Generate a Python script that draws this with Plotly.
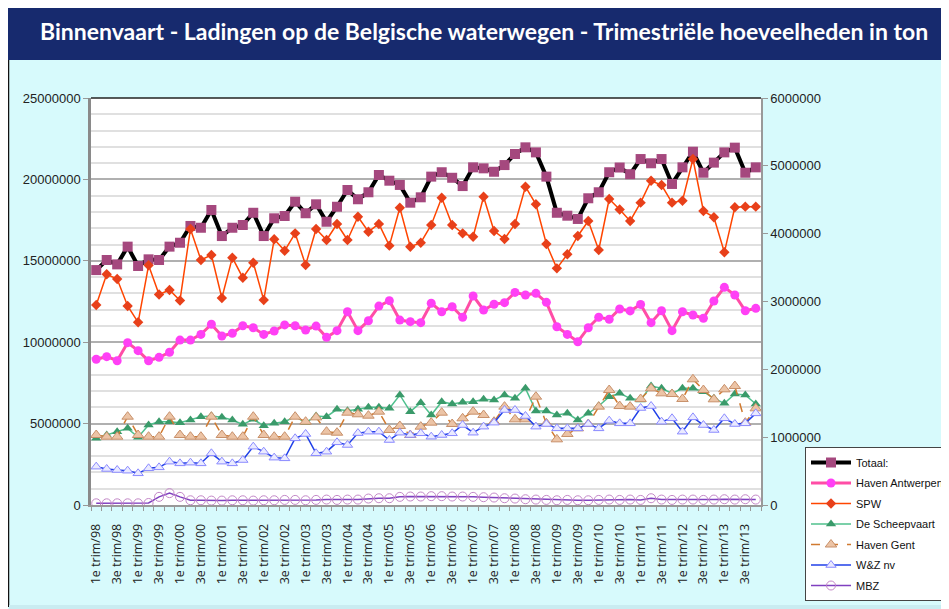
import plotly.graph_objects as go

# ---------------- data ----------------
quarters = [f"{q}e trim/{y:02d}" for y in list(range(98, 100)) + list(range(0, 14)) for q in (1, 2, 3, 4)]
tick_labels = [lab if lab[0] in "13" else "" for lab in quarters]

totaal = [14430000, 15050000, 14780000, 15870000, 14680000, 15090000, 15050000, 15870000, 16110000, 17140000,
          17030000, 18120000, 16520000, 17030000, 17200000, 17950000, 16520000, 17610000, 17750000, 18630000,
          17920000, 18470000, 17400000, 18320000, 19350000, 18780000, 19210000, 20270000, 19920000, 19660000,
          18570000, 18900000, 20170000, 20440000, 20100000, 19590000, 20740000, 20680000, 20470000, 20880000,
          21560000, 21970000, 21660000, 20170000, 17950000, 17770000, 17570000, 18840000, 19210000, 20440000,
          20730000, 20320000, 21250000, 20990000, 21250000, 19720000, 20740000, 21700000, 20410000, 21030000,
          21660000, 21950000, 20410000, 20740000]

antwerpen = [8950000, 9110000, 8860000, 9970000, 9480000, 8860000, 9070000, 9380000, 10130000, 10130000,
             10480000, 11100000, 10380000, 10550000, 11010000, 10890000, 10480000, 10690000, 11060000, 11010000,
             10750000, 10990000, 10300000, 10710000, 11870000, 10710000, 11320000, 12220000, 12550000, 11360000,
             11260000, 11200000, 12390000, 11870000, 12180000, 11530000, 12840000, 11980000, 12330000, 12430000,
             13060000, 12900000, 13000000, 12450000, 10950000, 10480000, 10030000, 10890000, 11530000, 11410000,
             12040000, 11920000, 12320000, 11200000, 11930000, 10710000, 11870000, 11670000, 11470000, 12530000,
             13370000, 12900000, 11930000, 12080000]

spw = [2948000, 3401000, 3332000, 2934000, 2693000, 3534000, 3103000, 3170000, 3015000, 4069000,
       3612000, 3686000, 3052000, 3646000, 3351000, 3572000, 3022000, 3917000, 3749000, 4005000,
       3538000, 4069000, 3907000, 4143000, 3907000, 4250000, 4029000, 4143000, 3823000, 4383000,
       3808000, 3867000, 4128000, 4530000, 4128000, 4005000, 3955000, 4545000, 4039000, 3921000,
       4143000, 4692000, 4433000, 3848000, 3489000, 3696000, 3966000, 4187000, 3759000, 4511000,
       4356000, 4187000, 4457000, 4781000, 4717000, 4457000, 4486000, 5101000, 4334000, 4241000,
       3725000, 4389000, 4398000, 4398000]

scheepvaart = [983000, 1032000, 1081000, 1130000, 998000, 1179000, 1228000, 1228000, 1214000, 1253000,
               1302000, 1312000, 1292000, 1253000, 1189000, 1263000, 1169000, 1204000, 1228000, 1302000,
               1214000, 1312000, 1302000, 1411000, 1391000, 1410000, 1440000, 1440000, 1425000, 1622000,
               1376000, 1509000, 1327000, 1523000, 1489000, 1513000, 1523000, 1558000, 1548000, 1622000,
               1572000, 1720000, 1386000, 1386000, 1327000, 1351000, 1253000, 1351000, 1459000, 1597000,
               1646000, 1572000, 1548000, 1754000, 1720000, 1646000, 1720000, 1720000, 1671000, 1572000,
               1499000, 1636000, 1622000, 1489000]

gent = [1032000, 1007000, 1007000, 1302000, 1032000, 1007000, 1007000, 1302000, 1032000, 1007000,
        1007000, 1302000, 1032000, 1007000, 1007000, 1302000, 1032000, 1007000, 1007000, 1302000,
        1228000, 1292000, 1081000, 1066000, 1361000, 1337000, 1317000, 1376000, 1106000, 1165000,
        1032000, 1155000, 1214000, 1361000, 1194000, 1278000, 1376000, 1327000, 1228000, 1450000,
        1263000, 1263000, 1597000, 1204000, 968000, 1047000, 1130000, 1194000, 1450000, 1695000,
        1459000, 1450000, 1563000, 1720000, 1646000, 1636000, 1563000, 1853000, 1695000, 1558000,
        1705000, 1754000, 1214000, 1425000]

wz = [565000, 531000, 516000, 506000, 467000, 541000, 555000, 639000, 614000, 624000,
      614000, 762000, 639000, 614000, 663000, 860000, 786000, 698000, 688000, 983000,
      1047000, 762000, 786000, 924000, 885000, 1060000, 1081000, 1081000, 958000, 1066000,
      1032000, 1057000, 1007000, 1032000, 1057000, 1179000, 1066000, 1155000, 1214000, 1400000,
      1400000, 1312000, 1155000, 1194000, 1130000, 1130000, 1130000, 1194000, 1130000, 1243000,
      1204000, 1204000, 1430000, 1459000, 1228000, 1278000, 1081000, 1292000, 1179000, 1106000,
      1278000, 1194000, 1204000, 1351000]

mbz = [25000, 25000, 25000, 25000, 25000, 30000, 120000, 175000, 120000, 70000,
       70000, 65000, 65000, 70000, 70000, 65000, 70000, 70000, 75000, 75000,
       70000, 75000, 80000, 75000, 80000, 80000, 95000, 100000, 100000, 120000,
       125000, 125000, 130000, 130000, 125000, 125000, 120000, 115000, 110000, 100000,
       95000, 85000, 80000, 75000, 70000, 75000, 70000, 70000, 75000, 80000,
       75000, 80000, 75000, 100000, 80000, 75000, 80000, 80000, 75000, 80000,
       85000, 80000, 85000, 80000]

# ---------------- geometry (page pixels; page body has an 8px margin) ----------------
OFF = 8
W, H = 949 - OFF, 609 - OFF
L, R, T, B = 91 - OFF, 761 - OFF, 98 - OFF, 505 - OFF


def px(x):
    """page x pixel -> paper coordinate"""
    return (x - OFF - L) / (R - L)


def py(y):
    """page y pixel -> paper coordinate"""
    return (B - (y - OFF)) / (B - T)


fig = go.Figure()

fig.add_trace(go.Scatter(x=quarters, y=totaal, name="Totaal:", mode="lines+markers", legendgroup="g1",
                         line=dict(color="black", width=4),
                         marker=dict(symbol="square", size=10, color="#a5487e"), yaxis="y"))
fig.add_trace(go.Scatter(x=quarters, y=antwerpen, name="Haven Antwerpen", mode="lines+markers", legendgroup="g2",
                         line=dict(color="#ff4da6", width=3),
                         marker=dict(symbol="circle", size=9, color="#ff40f5"), yaxis="y"))
fig.add_trace(go.Scatter(x=quarters, y=spw, name="SPW", mode="lines+markers", legendgroup="g3",
                         line=dict(color="#ff4500", width=1.5),
                         marker=dict(symbol="diamond", size=8, color="#e8401a"), yaxis="y2"))
fig.add_trace(go.Scatter(x=quarters, y=scheepvaart, name="De Scheepvaart", mode="lines+markers", legendgroup="g4",
                         line=dict(color="#4fc08d", width=1.5),
                         marker=dict(symbol="triangle-up", size=9, color="#3a9a6a"), yaxis="y2"))
fig.add_trace(go.Scatter(x=quarters, y=gent, name="Haven Gent", mode="lines+markers", legendgroup="g5",
                         line=dict(color="#d07a30", width=1.5, dash="dash"),
                         marker=dict(symbol="triangle-up", size=10, color="#ecc4a6",
                                     line=dict(color="#c8906a", width=1)), yaxis="y2"))
fig.add_trace(go.Scatter(x=quarters, y=wz, name="W&Z nv", mode="lines+markers", legendgroup="g6",
                         line=dict(color="#2040e8", width=1.5),
                         marker=dict(symbol="triangle-up", size=9, color="#eaeaff",
                                     line=dict(color="#8a8aff", width=1)), yaxis="y2"))
fig.add_trace(go.Scatter(x=quarters, y=mbz, name="MBZ", mode="lines+markers", legendgroup="g7",
                         line=dict(color="#8040c0", width=1.5),
                         marker=dict(symbol="circle-open", size=9, color="#c488c8",
                                     line=dict(width=1)), yaxis="y2"))

axis_font = dict(family="Liberation Sans, Arial", size=13, color="#222222")

shapes = [
    # navy title bar
    dict(type="rect", xref="paper", yref="paper", x0=px(0), x1=px(960), y0=py(60), y1=py(0),
         fillcolor="#172a6e", line=dict(width=0), layer="below"),
    # dark left border of panel
    dict(type="line", xref="paper", yref="paper", x0=px(8), x1=px(8), y0=py(60), y1=py(607),
         line=dict(color="#111111", width=2.5), layer="below"),
    # bottom band
    dict(type="rect", xref="paper", yref="paper", x0=px(9), x1=px(960), y0=py(620), y1=py(605),
         fillcolor="#c9ecf1", line=dict(width=0), layer="below"),
    # top border of plot area
    dict(type="line", xref="paper", yref="paper", x0=0, x1=1, y0=1, y1=1,
         line=dict(color="#222222", width=1.5), layer="above"),
]

fig.update_layout(
    width=W, height=H,
    margin=dict(l=L, r=W - R, t=T, b=H - B, autoexpand=False),
    paper_bgcolor="#d7fafc",
    plot_bgcolor="white",
    showlegend=True,
    shapes=shapes,
    annotations=[dict(text="Binnenvaart - Ladingen op de Belgische waterwegen - Trimestriële hoeveelheden in ton",
                      xref="paper", yref="paper", x=px(484), y=py(31), xanchor="center", yanchor="middle",
                      showarrow=False,
                      font=dict(family="Lato", size=23, color="white", weight="bold"))],
    xaxis=dict(type="category", categoryorder="array", categoryarray=quarters,
               range=[-0.5, len(quarters) - 0.5],
               tickmode="array", tickvals=quarters, ticktext=tick_labels,
               tickson="boundaries", ticks="outside", ticklen=4, tickcolor="#999999",
               tickangle=-90, ticklabelstandoff=12,
               tickfont=dict(family="Open Sans", size=12.5, color="#222222"),
               showline=True, linecolor="#999999", linewidth=1.5, showgrid=False, zeroline=False),
    yaxis=dict(range=[0, 25000000], tick0=0, dtick=5000000, tickformat="d",
               showgrid=True, gridcolor="#b0b0b0", gridwidth=1.5,
               minor=dict(dtick=1000000, showgrid=True, gridcolor="#e0e0e0", gridwidth=1.5),
               ticks="outside", ticklen=5, tickcolor="#999999",
               showline=True, linecolor="#8a8a8a", linewidth=2.5, zeroline=False,
               tickfont=axis_font),
    yaxis2=dict(range=[0, 6000000], tick0=0, dtick=1000000, tickformat="d", overlaying="y", side="right",
                showgrid=False, ticks="outside", ticklen=5, tickcolor="#999999",
                showline=True, linecolor="#999999", linewidth=1.5, zeroline=False,
                tickfont=axis_font),
    legend=dict(x=px(805), y=py(447), xanchor="left", yanchor="top",
                bgcolor="white", bordercolor="#444444", borderwidth=1,
                font=dict(family="Liberation Sans, Arial", size=11, color="#111111"),
                itemwidth=40, tracegroupgap=1.5, entrywidth=110, entrywidthmode="pixels"),
)

fig.write_html("out.html")
